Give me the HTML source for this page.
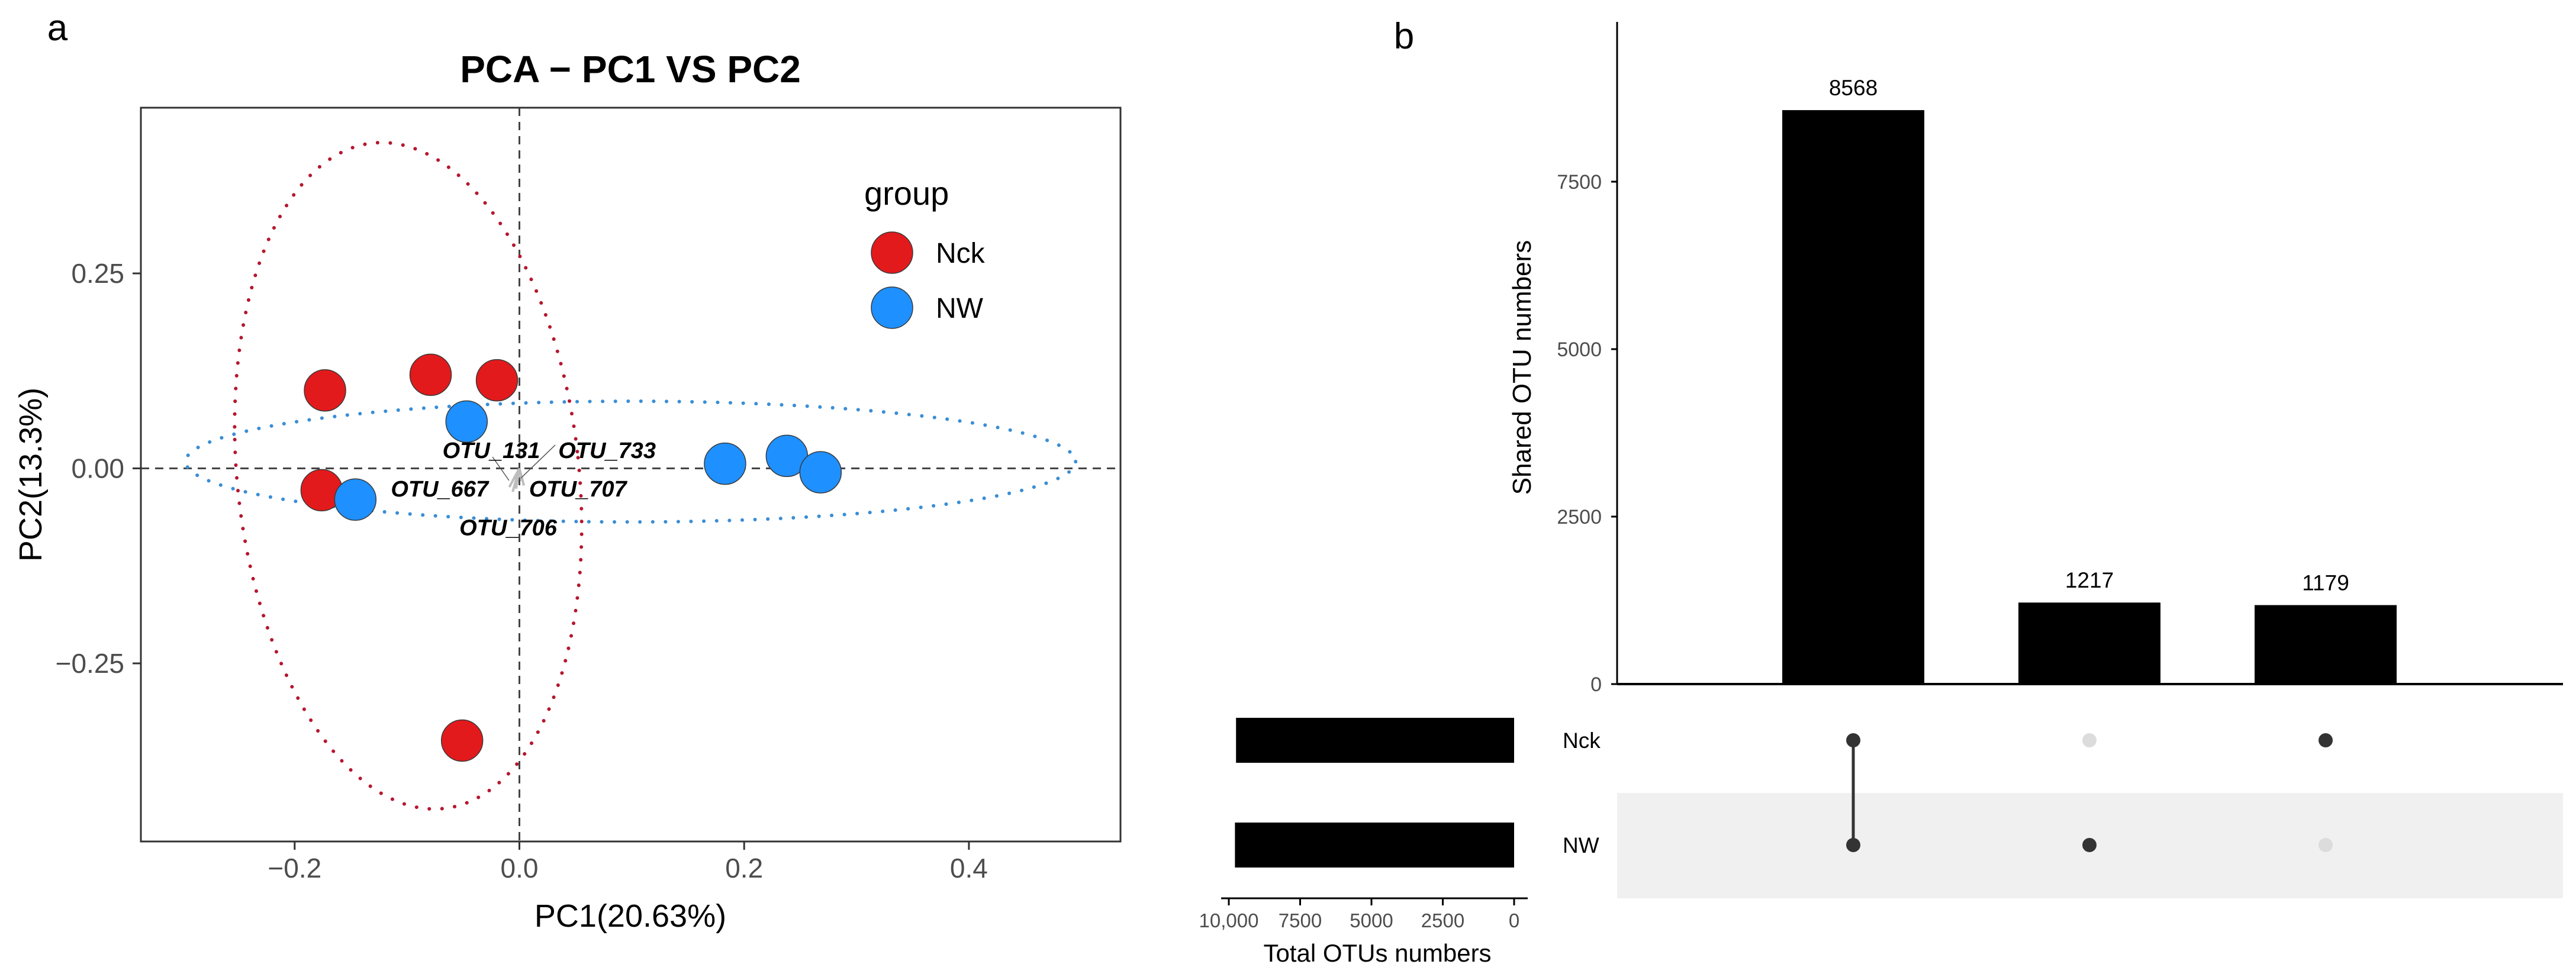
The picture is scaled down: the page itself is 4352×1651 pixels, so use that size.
<!DOCTYPE html>
<html><head><meta charset="utf-8"><style>
html,body{margin:0;padding:0;background:#fff;}
svg{display:block;font-family:"Liberation Sans",Arial,sans-serif;}
</style></head><body>
<svg id="fig" width="4352" height="1651" viewBox="0 0 4352 1651" xmlns="http://www.w3.org/2000/svg">
<rect x="0" y="0" width="4352" height="1651" fill="#fff"/>
<g id="pca"></g>
<g id="ups"></g>
</svg>
<script>
// ---------- PCA data ----------
const nckX = [-0.173, -0.079, -0.020, -0.176, -0.051];
const nckY = [0.100, 0.120, 0.113, -0.028, -0.349];
const nwX = [-0.047, -0.146, 0.183, 0.238, 0.268];
const nwY = [0.060, -0.040, 0.006, 0.016, -0.005];
const xTicks = [-0.2, 0.0, 0.2, 0.4];
const xTickLabels = ["\u22120.2", "0.0", "0.2", "0.4"];
const yTicks = [0.25, 0.00, -0.25];
const yTickLabels = ["0.25", "0.00", "\u22120.25"];
const ellCenterX = [-0.099, 0.099];
const ellCenterY = [-0.0095, 0.0087];
const ellRadX = [0.152, 0.396];
const ellRadY = [0.429, 0.0774];
const ellAngle = [-6.1, 0];
const loadX = [-0.006, -0.003, 0.004, -0.009, 0.002];
const loadY = [-0.030, -0.026, -0.022, -0.024, -0.016];
const otuNames = ["OTU_131","OTU_733","OTU_667","OTU_707","OTU_706"];
const otuLabX = [-0.025, 0.078, -0.071, 0.052, -0.010];
const otuLabY = [0.023, 0.023, -0.026, -0.026, -0.076];

// ---------- UpSet data ----------
const interValues = [8568, 1217, 1179];
const interNck = [1, 0, 1];
const interNW = [1, 1, 0];
const setNames = ["Nck", "NW"];
const setSizes = [9747, 9785];
const barTicks = [0, 2500, 5000, 7500];
const setTicks = [10000, 7500, 5000, 2500, 0];
const setTickLabels = ["10,000", "7500", "5000", "2500", "0"];

const NS = "http://www.w3.org/2000/svg";
function mk(parent, tag, attrs, text){
  const e = document.createElementNS(NS, tag);
  for (const k in attrs) e.setAttribute(k, attrs[k]);
  if (text !== undefined) e.textContent = text;
  parent.appendChild(e);
  return e;
}

// ===== PCA panel =====
const P = document.getElementById('pca');
const L = 238, R = 1893, T = 182, B = 1422;
const X0 = 877.5, XS = 1898.5, Y0 = 791.5, YS = 1318;
const sx = v => X0 + v * XS;
const sy = v => Y0 - v * YS;

let t = mk(P, 'text', {x: 97, y: 68, 'font-size': 62, 'text-anchor': 'middle', fill: '#000'}, 'a');


t = mk(P, 'text', {x: 1065, y: 139, 'font-size': 64, 'font-weight': 'bold', 'text-anchor': 'middle', fill: '#000'}, 'PCA \u2212 PC1 VS PC2');



// dashed zero lines
let ln = mk(P, 'line', {x1: L, x2: R, y1: sy(0), y2: sy(0), stroke: '#444', 'stroke-width': 3, 'stroke-dasharray': '14 10'});


ln = mk(P, 'line', {x1: sx(0), x2: sx(0), y1: T, y2: B, stroke: '#444', 'stroke-width': 3, 'stroke-dasharray': '14 10'});



// ellipses
const ellColors = ['#b5172f', '#3a8ed6'];
const ellNames = ['ellipse-nck', 'ellipse-nw'];
for (let i = 0; i < 2; i++) {
  const cx = sx(ellCenterX[i]), cy = sy(ellCenterY[i]);
  const e = mk(P, 'ellipse', {cx: cx, cy: cy, rx: ellRadX[i] * XS, ry: ellRadY[i] * YS,
    transform: `rotate(${ellAngle[i]} ${cx} ${cy})`, fill: 'none', stroke: ellColors[i],
    'stroke-width': 6, 'stroke-linecap': 'round', 'stroke-dasharray': '0.1 21.5'});
  
  
}

// loading arrows
for (let i = 0; i < loadX.length; i++) {
  const a = mk(P, 'line', {x1: sx(0), y1: sy(0), x2: sx(loadX[i]), y2: sy(loadY[i]), stroke: '#bdbdbd', 'stroke-width': 4});
  
  
}
ln = mk(P, 'line', {x1: 832, y1: 772, x2: 860, y2: 812, stroke: '#555', 'stroke-width': 1.5});


ln = mk(P, 'line', {x1: 938, y1: 752, x2: 880, y2: 808, stroke: '#555', 'stroke-width': 1.5});



// points
function pts(xs, ys, col, nm){
  for (let i = 0; i < xs.length; i++) {
    const c = mk(P, 'circle', {cx: sx(xs[i]), cy: sy(ys[i]), r: 35, fill: col, stroke: '#3a3a3a', 'stroke-width': 1.5});
    
    
  }
}
pts(nckX, nckY, '#e31a1c', 'nck');
pts(nwX, nwY, '#1e90ff', 'nw');

// OTU labels
for (let i = 0; i < otuNames.length; i++) {
  const o = mk(P, 'text', {x: sx(otuLabX[i]), y: sy(otuLabY[i]) + 13, 'font-size': 38, 'font-weight': 'bold', 'font-style': 'italic', 'text-anchor': 'middle', fill: '#000'}, otuNames[i]);
  
  
}

// frame
let fr = mk(P, 'rect', {x: L, y: T, width: R - L, height: B - T, fill: 'none', stroke: '#333', 'stroke-width': 3});



// ticks
for (let i = 0; i < xTicks.length; i++) {
  const x = sx(xTicks[i]);
  const k = mk(P, 'line', {x1: x, x2: x, y1: B, y2: B + 14, stroke: '#333', 'stroke-width': 3});
  
  
  const tl = mk(P, 'text', {x: x, y: 1483, 'font-size': 46, 'text-anchor': 'middle', fill: '#4d4d4d'}, xTickLabels[i]);
  
  
}
for (let i = 0; i < yTicks.length; i++) {
  const y = sy(yTicks[i]);
  const k = mk(P, 'line', {x1: L - 14, x2: L, y1: y, y2: y, stroke: '#333', 'stroke-width': 3});
  
  
  const tl = mk(P, 'text', {x: 210, y: y + 16, 'font-size': 46, 'text-anchor': 'end', fill: '#4d4d4d'}, yTickLabels[i]);
  
  
}
t = mk(P, 'text', {x: 1065, y: 1566, 'font-size': 54, 'text-anchor': 'middle', fill: '#000'}, 'PC1(20.63%)');


t = mk(P, 'text', {x: 0, y: 0, 'font-size': 54, 'text-anchor': 'middle', fill: '#000', transform: 'translate(70 802) rotate(-90)'}, 'PC2(13.3%)');



// legend
t = mk(P, 'text', {x: 1460, y: 346, 'font-size': 56, fill: '#000'}, 'group');


const legCols = ['#e31a1c', '#1e90ff'], legY = [427, 520], legTxt = ['Nck', 'NW'];
for (let i = 0; i < 2; i++) {
  const c = mk(P, 'circle', {cx: 1507, cy: legY[i], r: 35, fill: legCols[i], stroke: '#3a3a3a', 'stroke-width': 1.5});
  
  
  const lt = mk(P, 'text', {x: 1581, y: legY[i] + 17, 'font-size': 48, fill: '#000'}, legTxt[i]);
  
  
}

// ===== UpSet panel =====
const U = document.getElementById('ups');
const AX = 2732, BASE = 1156, TOPY = 37, RIGHT = 4330;
const BSC = 283 / 2500;
const by = v => BASE - v * BSC;
const COL0 = 3131, COLSTEP = 399, BW = 240;
const cx = i => COL0 + i * COLSTEP;
const rowY = [1251, 1428];
const SX0 = 2558, SSC = 482 / 10000;
const ssx = v => SX0 - v * SSC;

t = mk(U, 'text', {x: 2372, y: 82, 'font-size': 62, 'text-anchor': 'middle', fill: '#000'}, 'b');



// NW band
let band = mk(U, 'rect', {x: AX, y: 1340, width: RIGHT - AX, height: 178, fill: '#f0f0f0'});



// bars
for (let i = 0; i < interValues.length; i++) {
  const r = mk(U, 'rect', {x: cx(i) - BW / 2, y: by(interValues[i]), width: BW, height: BASE - by(interValues[i]), fill: '#000'});
  
  
  const v = mk(U, 'text', {x: cx(i), y: by(interValues[i]) - 25, 'font-size': 37, 'text-anchor': 'middle', fill: '#000'}, String(interValues[i]));
  
  
}
ln = mk(U, 'line', {x1: AX, x2: AX, y1: TOPY, y2: BASE, stroke: '#000', 'stroke-width': 3});


ln = mk(U, 'line', {x1: AX, x2: RIGHT, y1: BASE, y2: BASE, stroke: '#000', 'stroke-width': 4});


for (let i = 0; i < barTicks.length; i++) {
  const y = by(barTicks[i]);
  const k = mk(U, 'line', {x1: AX - 10, x2: AX, y1: y, y2: y, stroke: '#000', 'stroke-width': 3});
  
  
  const tl = mk(U, 'text', {x: 2706, y: y + 12, 'font-size': 34, 'text-anchor': 'end', fill: '#4d4d4d'}, String(barTicks[i]));
  
  
}
t = mk(U, 'text', {x: 0, y: 0, 'font-size': 44, 'text-anchor': 'middle', fill: '#000', transform: 'translate(2586 621) rotate(-90)'}, 'Shared OTU numbers');



// matrix
for (let i = 0; i < interValues.length; i++) {
  const mem = [interNck[i], interNW[i]];
  const on = [];
  for (let j = 0; j < 2; j++) if (mem[j]) on.push(rowY[j]);
  if (on.length > 1) {
    const c = mk(U, 'line', {x1: cx(i), x2: cx(i), y1: Math.min(...on), y2: Math.max(...on), stroke: '#333', 'stroke-width': 5});
    
    
  }
  for (let j = 0; j < 2; j++) {
    const d = mk(U, 'circle', {cx: cx(i), cy: rowY[j], r: 12, fill: mem[j] ? '#333333' : '#dcdcdc'});
    
    
  }
}
// set labels & set size bars
for (let j = 0; j < 2; j++) {
  const sl = mk(U, 'text', {x: 2640, y: rowY[j] + 13, 'font-size': 37, fill: '#000'}, setNames[j]);
  
  
  const r = mk(U, 'rect', {x: ssx(setSizes[j]), y: rowY[j] - 38, width: SX0 - ssx(setSizes[j]), height: 76, fill: '#000'});
  
  
}
ln = mk(U, 'line', {x1: 2063, x2: 2581, y1: 1518, y2: 1518, stroke: '#000', 'stroke-width': 3});


for (let i = 0; i < setTicks.length; i++) {
  const x = ssx(setTicks[i]);
  const k = mk(U, 'line', {x1: x, x2: x, y1: 1518, y2: 1530, stroke: '#000', 'stroke-width': 3});
  
  
  const tl = mk(U, 'text', {x: x, y: 1567, 'font-size': 33, 'text-anchor': 'middle', fill: '#4d4d4d'}, setTickLabels[i]);
  
  
}
t = mk(U, 'text', {x: 2327, y: 1625, 'font-size': 42, 'text-anchor': 'middle', fill: '#000'}, 'Total OTUs numbers');


</script>
</body></html>
